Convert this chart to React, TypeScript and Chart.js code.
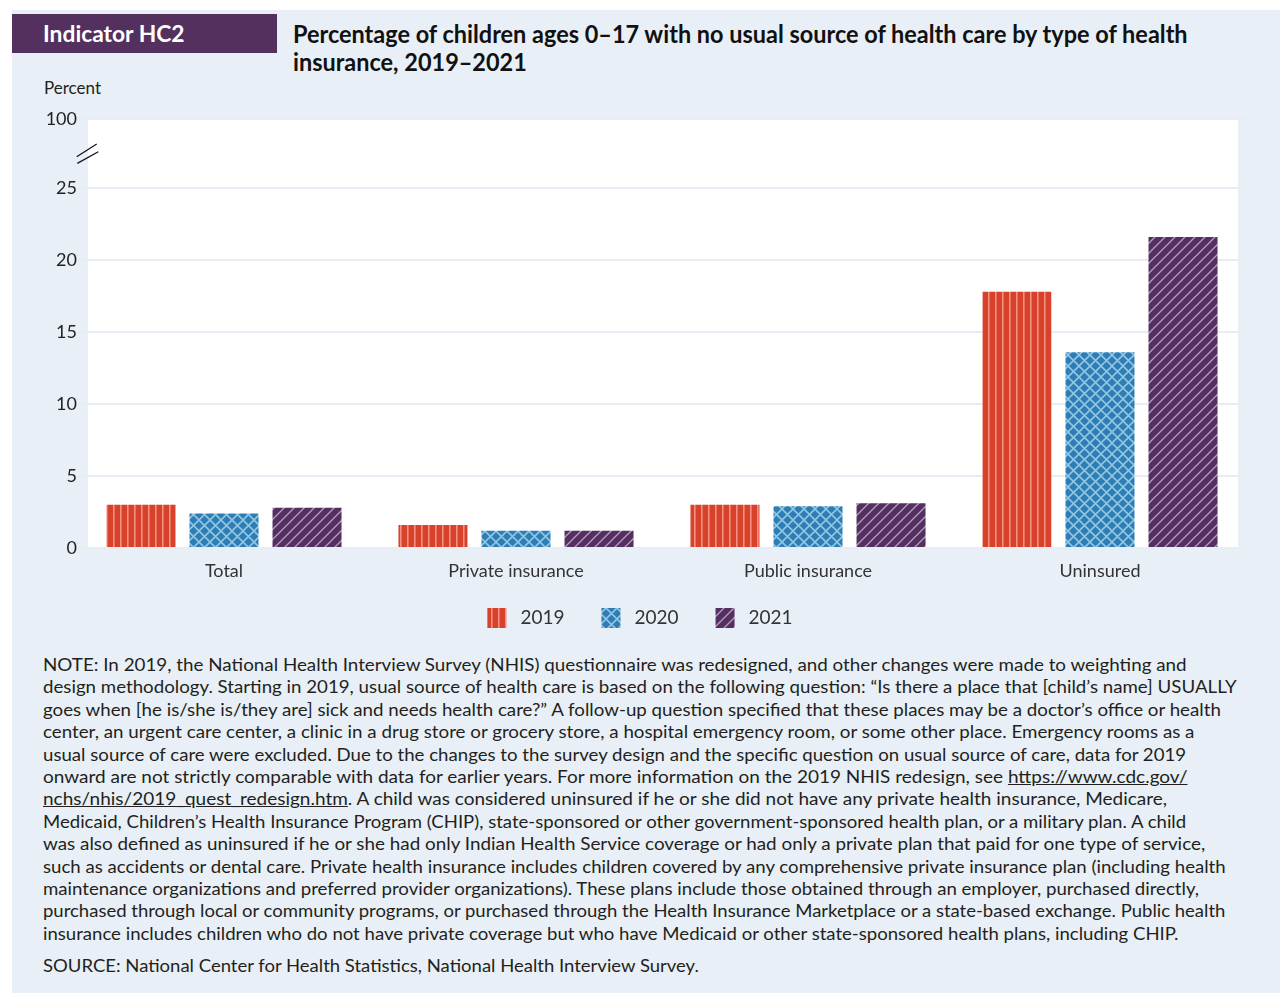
import React, { useEffect, useRef } from "react";
import { Chart, registerables } from "chart.js";

Chart.register(...registerables);

// ---------- DATA ----------
const categories = ["Total", "Private insurance", "Public insurance", "Uninsured"];
const seriesLabels = ["2019", "2020", "2021"];
const values2019 = [3.0, 1.6, 3.0, 17.8];
const values2020 = [2.4, 1.2, 2.9, 13.6];
const values2021 = [2.8, 1.2, 3.1, 21.6];
const yTickValues = [0, 5, 10, 15, 20, 25];
const axisTopValue = 29.8; // position of the broken-axis top
const axisTopLabel = "100";
const breakValue = 27.4;

const indicatorText = "Indicator HC2";
const titleLines = [
  "Percentage of children ages 0–17 with no usual source of health care by type of health",
  "insurance, 2019–2021",
];
const yAxisTitle = "Percent";

type Seg = { t: string; u?: boolean };
const noteLines: Seg[][] = [
  [{ t: "NOTE: In 2019, the National Health Interview Survey (NHIS) questionnaire was redesigned, and other changes were made to weighting and" }],
  [{ t: "design methodology. Starting in 2019, usual source of health care is based on the following question: “Is there a place that [child’s name] USUALLY" }],
  [{ t: "goes when [he is/she is/they are] sick and needs health care?” A follow-up question specified that these places may be a doctor’s office or health" }],
  [{ t: "center, an urgent care center, a clinic in a drug store or grocery store, a hospital emergency room, or some other place. Emergency rooms as a" }],
  [{ t: "usual source of care were excluded. Due to the changes to the survey design and the specific question on usual source of care, data for 2019" }],
  [{ t: "onward are not strictly comparable with data for earlier years. For more information on the 2019 NHIS redesign, see " }, { t: "https://www.cdc.gov/", u: true }],
  [{ t: "nchs/nhis/2019_quest_redesign.htm", u: true }, { t: ". A child was considered uninsured if he or she did not have any private health insurance, Medicare," }],
  [{ t: "Medicaid, Children’s Health Insurance Program (CHIP), state-sponsored or other government-sponsored health plan, or a military plan. A child" }],
  [{ t: "was also defined as uninsured if he or she had only Indian Health Service coverage or had only a private plan that paid for one type of service," }],
  [{ t: "such as accidents or dental care. Private health insurance includes children covered by any comprehensive private insurance plan (including health" }],
  [{ t: "maintenance organizations and preferred provider organizations). These plans include those obtained through an employer, purchased directly," }],
  [{ t: "purchased through local or community programs, or purchased through the Health Insurance Marketplace or a state-based exchange. Public health" }],
  [{ t: "insurance includes children who do not have private coverage but who have Medicaid or other state-sponsored health plans, including CHIP." }],
];
const noteLineWidths = [1146, 1194, 1181, 1154, 1145, 1147, 1127, 1146, 1165, 1184, 1157, 1184, 1137];
const sourceText = "SOURCE: National Center for Health Statistics, National Health Interview Survey.";
const sourceWidth = 657;

// ---------- STYLE ----------
const FONT = "Lato, 'Noto Sans', sans-serif";
const PANEL_BG = "#e8eff6";
const PURPLE = "#54305f";
const TEXT = "#231f20";

let measureCtx: CanvasRenderingContext2D | null = null;
function measure(text: string, font: string): number {
  if (!measureCtx) measureCtx = document.createElement("canvas").getContext("2d");
  measureCtx!.font = font;
  return measureCtx!.measureText(text).width;
}

function makePattern(kind: "vert" | "cross" | "diag"): CanvasPattern | string {
  const c = document.createElement("canvas");
  const ctx = c.getContext("2d");
  if (!ctx) return "#888";
  if (kind === "vert") {
    c.width = 7; c.height = 7;
    ctx.fillStyle = "#d8412a"; ctx.fillRect(0, 0, 7, 7);
    ctx.fillStyle = "#f29083"; ctx.fillRect(3, 0, 1.6, 7);
  } else if (kind === "cross") {
    const s = 11;
    c.width = s; c.height = s;
    ctx.fillStyle = "#2f7db5"; ctx.fillRect(0, 0, s, s);
    ctx.strokeStyle = "#8fc6e2"; ctx.lineWidth = 1.6;
    ctx.beginPath();
    ctx.moveTo(-2, -2); ctx.lineTo(s + 2, s + 2);
    ctx.moveTo(-2, s + 2); ctx.lineTo(s + 2, -2);
    ctx.stroke();
  } else {
    const s = 10;
    c.width = s; c.height = s;
    ctx.fillStyle = "#53305e"; ctx.fillRect(0, 0, s, s);
    ctx.strokeStyle = "#b69bc9"; ctx.lineWidth = 1.3;
    ctx.beginPath();
    ctx.moveTo(-2, s + 2); ctx.lineTo(s + 2, -2);
    ctx.moveTo(-s / 2 - 2, s / 2 + 2); ctx.lineTo(s / 2 + 2, -s / 2 - 2);
    ctx.moveTo(s / 2 - 2, s * 1.5 + 2); ctx.lineTo(s * 1.5 + 2, s / 2 - 2);
    ctx.stroke();
  }
  return ctx.createPattern(c, "repeat") || "#888";
}

const plotBgPlugin = {
  id: "plotBg",
  beforeDraw(chart: any) {
    const { ctx, chartArea } = chart;
    ctx.save();
    ctx.fillStyle = "#ffffff";
    ctx.fillRect(chartArea.left + 10, chartArea.top, chartArea.right - chartArea.left - 18, chartArea.bottom - chartArea.top);
    ctx.restore();
  },
};

const axisBreakPlugin = {
  id: "axisBreak",
  afterDraw(chart: any) {
    const { ctx, chartArea, scales } = chart;
    const y = scales.y.getPixelForValue(breakValue);
    const x = chartArea.left;
    ctx.save();
    ctx.strokeStyle = "#111";
    ctx.lineWidth = 1.2;
    ctx.beginPath();
    ctx.moveTo(x - 1.3, y + 3.2); ctx.lineTo(x + 18.7, y - 9.5);
    ctx.moveTo(x - 0.7, y + 9.8); ctx.lineTo(x + 20.3, y - 1.8);
    ctx.stroke();
    ctx.restore();
  },
};

const legendPlugin = {
  id: "patternLegend",
  afterDraw(chart: any) {
    const { ctx, chartArea } = chart;
    const cy = chartArea.bottom + 70;
    ctx.save();
    ctx.font = `19px ${FONT}`;
    const box = 20, gap = 13, spacing = 37;
    const items = chart.data.datasets.map((ds: any) => ({
      label: ds.label as string,
      w: ctx.measureText(ds.label).width,
      fill: ds.backgroundColor,
    }));
    const total = items.reduce((a: number, it: any) => a + box + gap + it.w, 0) + spacing * (items.length - 1);
    let x = (chartArea.left + chartArea.right) / 2 - 22 - total / 2;
    ctx.textBaseline = "middle";
    ctx.textAlign = "left";
    for (const it of items) {
      ctx.fillStyle = it.fill;
      ctx.fillRect(x, cy - box / 2, box - 1, box);
      ctx.fillStyle = "#333";
      ctx.fillText(it.label, x + box + gap, cy);
      x += box + gap + it.w + spacing;
    }
    ctx.restore();
  },
};

function FitText(props: { segs: Seg[]; width: number; font: string; style: React.CSSProperties }) {
  const natural = props.segs.reduce((a, s) => a + measure(s.t, props.font), 0);
  const scale = natural > 0 ? props.width / natural : 1;
  return (
    <div
      style={{
        position: "absolute",
        whiteSpace: "pre",
        font: props.font,
        transform: `scaleX(${scale})`,
        transformOrigin: "0 0",
        ...props.style,
      }}
    >
      {props.segs.map((s, i) =>
        s.u ? (
          <span key={i} style={{ textDecoration: "underline" }}>{s.t}</span>
        ) : (
          <span key={i}>{s.t}</span>
        )
      )}
    </div>
  );
}

export default function App() {
  const canvasRef = useRef<HTMLCanvasElement>(null);

  useEffect(() => {
    if (!canvasRef.current) return;
    Chart.defaults.font.family = FONT;
    const chart = new Chart(canvasRef.current, {
      type: "bar",
      data: {
        labels: categories,
        datasets: [
          { label: seriesLabels[0], data: values2019, backgroundColor: makePattern("vert") as any, borderWidth: 0 },
          { label: seriesLabels[1], data: values2020, backgroundColor: makePattern("cross") as any, borderWidth: 0 },
          { label: seriesLabels[2], data: values2021, backgroundColor: makePattern("diag") as any, borderWidth: 0 },
        ],
      },
      options: {
        animation: false,
        responsive: false,
        maintainAspectRatio: false,
        events: [],
        layout: { padding: { left: 0, right: 34, top: 39, bottom: 68 } },
        datasets: { bar: { categoryPercentage: 0.853, barPercentage: 0.831 } },
        plugins: { legend: { display: false }, tooltip: { enabled: false } },
        scales: {
          x: {
            grid: { display: false, drawTicks: false },
            border: { display: false },
            ticks: { color: "#333", font: { size: 18, family: FONT }, padding: 12, maxRotation: 0 },
            afterFit: (s: any) => { s.height = 34; },
          },
          y: {
            min: 0,
            max: axisTopValue,
            afterBuildTicks: (s: any) => {
              s.ticks = [...yTickValues, axisTopValue].map((v) => ({ value: v }));
            },
            afterFit: (s: any) => { s.width = 66; },
            grid: { color: "#e6edf5", lineWidth: 2, drawTicks: false },
            border: { display: false },
            ticks: {
              autoSkip: false,
              padding: 1,
              color: TEXT,
              font: { size: 18, family: FONT },
              callback: (v: any) => (Number(v) >= axisTopValue - 0.01 ? axisTopLabel : String(v)),
            },
          },
        },
      },
      plugins: [plotBgPlugin, axisBreakPlugin, legendPlugin],
    });
    return () => chart.destroy();
  }, []);

  const noteFont = `17px ${FONT}`;
  const titleFont = `bold 24px ${FONT}`;
  const titleScale = 897 / measure(titleLines[0], titleFont);

  return (
    <div
      style={{
        position: "absolute",
        left: 12,
        top: 10,
        width: 1268,
        height: 983,
        background: PANEL_BG,
        color: TEXT,
        fontFamily: FONT,
        overflow: "hidden",
      }}
    >
      <div
        style={{
          position: "absolute",
          left: 0,
          top: 4,
          width: 265,
          height: 39,
          background: PURPLE,
        }}
      />
      <FitText
        segs={[{ t: indicatorText }]}
        width={142}
        font={`bold 22px ${FONT}`}
        style={{ left: 31, top: 10, lineHeight: "28px", color: "#ffffff" }}
      />
      {titleLines.map((line, i) => (
        <div
          key={i}
          style={{
            position: "absolute",
            left: 281,
            top: 10 + i * 28,
            whiteSpace: "pre",
            font: titleFont,
            lineHeight: "28px",
            color: "#111",
            transform: `scaleX(${titleScale})`,
            transformOrigin: "0 0",
          }}
        >
          {line}
        </div>
      ))}
      <div
        style={{
          position: "absolute",
          left: 32,
          top: 68,
          font: `17px ${FONT}`,
          lineHeight: "20px",
          whiteSpace: "pre",
        }}
      >
        {yAxisTitle}
      </div>
      <canvas
        ref={canvasRef}
        width={1268}
        height={570}
        style={{ position: "absolute", left: 0, top: 70, width: 1268, height: 570 }}
      />
      {noteLines.map((segs, i) => (
        <FitText
          key={i}
          segs={segs}
          width={noteLineWidths[i]}
          font={noteFont}
          style={{ left: 31, top: 644 + i * 22.4, lineHeight: "22px" }}
        />
      ))}
      <FitText
        segs={[{ t: sourceText }]}
        width={sourceWidth}
        font={noteFont}
        style={{ left: 31, top: 945, lineHeight: "22px" }}
      />
    </div>
  );
}
